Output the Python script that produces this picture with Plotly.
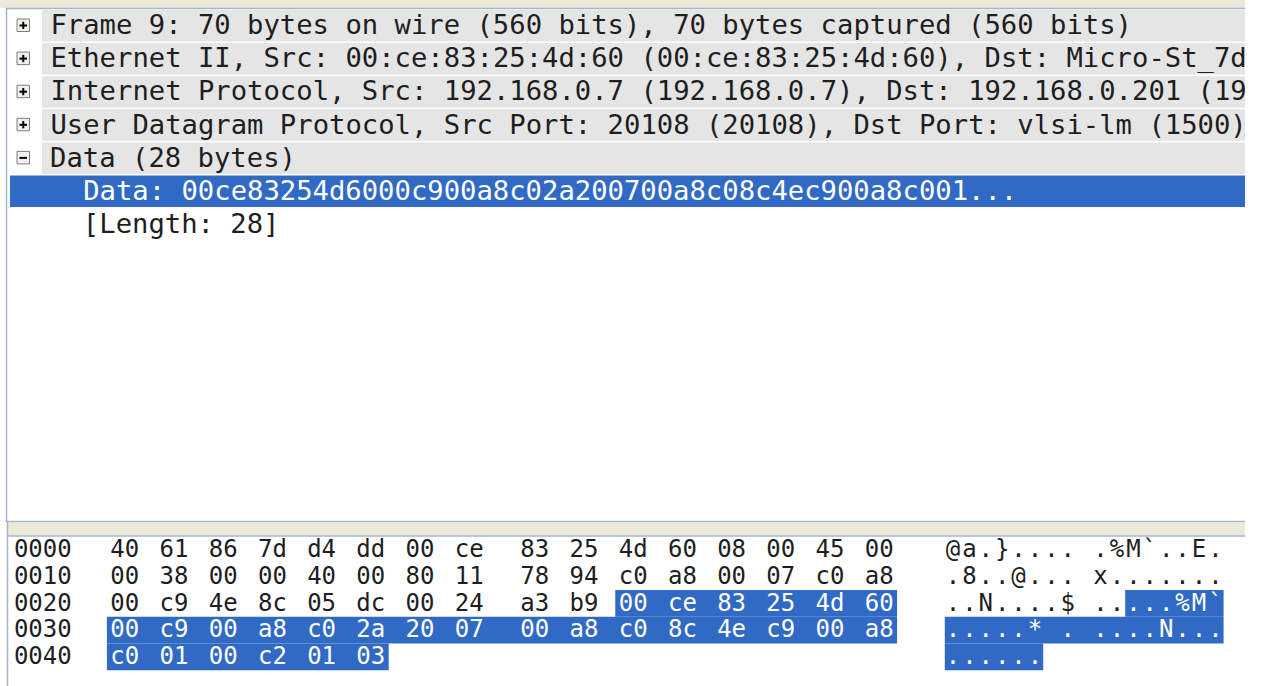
import plotly.graph_objects as go

# ---------------- data ----------------
tree_labels = [
    "Frame 9: 70 bytes on wire (560 bits), 70 bytes captured (560 bits)",
    "Ethernet II, Src: 00:ce:83:25:4d:60 (00:ce:83:25:4d:60), Dst: Micro-St_7d",
    "Internet Protocol, Src: 192.168.0.7 (192.168.0.7), Dst: 192.168.0.201 (19",
    "User Datagram Protocol, Src Port: 20108 (20108), Dst Port: vlsi-lm (1500)",
    "Data (28 bytes)",
    "Data: {payload}...",
    "[Length: 28]",
]
tree_indent = [0, 0, 0, 0, 0, 2, 2]
tree_icon = ["+", "+", "+", "+", "-", "", ""]
tree_selected = [False, False, False, False, False, True, False]

hex_offsets = ["0000", "0010", "0020", "0030", "0040"]
hex_rows = [
    "40 61 86 7d d4 dd 00 ce 83 25 4d 60 08 00 45 00",
    "00 38 00 00 40 00 80 11 78 94 c0 a8 00 07 c0 a8",
    "00 c9 4e 8c 05 dc 00 24 a3 b9 00 ce 83 25 4d 60",
    "00 c9 00 a8 c0 2a 20 07 00 a8 c0 8c 4e c9 00 a8",
    "c0 01 00 c2 01 03",
]
sel_start = 42   # first byte of the Data field
sel_len = 28     # bytes in the Data field
preview_bytes = 24

# ---------------- styling / layout constants ----------------
W, H = 1262, 686
CW = 16.4                     # character advance
FONT = "DejaVu Sans Mono"
FSIZE = CW / 0.6021           # tree font (advance == CW)
HEX_FSIZE = 24                # hex dump font (fits the tighter row pitch)
DARK = "#1e1e1e"
SEL = "#316ac5"
ROWGRAY = "#e5e5e5"
BEIGE = "#ece9d8"
BORDER = "#a3b6cc"
RIGHT = 1245

TREE_X0, TREE_Y0, ROW_H = 50, 25.5, 33.1
TEXT_DY = 2.0
HEX_X0, HEX_Y0, HEX_ROW_H = 10, 550, 26.75
HEX_COL, ASCII_COL = 6, 57

all_bytes = []
for r in hex_rows:
    all_bytes += r.split()
payload = "".join(all_bytes[sel_start:sel_start + preview_bytes])
tree_text = [t.replace("{payload}", payload) for t in tree_labels]


def col_x(c):
    return HEX_X0 + c * CW


def hex_col(j):
    return HEX_COL + 3 * j + (1 if j >= 8 else 0)


def asc_col(j):
    return ASCII_COL + j + (1 if j >= 8 else 0)


def to_ascii(b):
    v = int(b, 16)
    return chr(v) if 32 <= v < 127 else "."


shapes = []
# upper pane frame
shapes.append(dict(type="rect", x0=0, x1=RIGHT, y0=0, y1=8, fillcolor=BEIGE, line_width=0, layer="below"))
shapes.append(dict(type="line", x0=6, x1=RIGHT, y0=8.5, y1=8.5, line=dict(color=BORDER, width=1.5)))
shapes.append(dict(type="line", x0=6.5, x1=6.5, y0=8, y1=522, line=dict(color=BORDER, width=1.5)))
shapes.append(dict(type="line", x0=6, x1=RIGHT, y0=521.5, y1=521.5, line=dict(color=BORDER, width=1.5)))
# splitter + lower pane frame
shapes.append(dict(type="rect", x0=7, x1=RIGHT, y0=522.5, y1=535.5, fillcolor=BEIGE, line_width=0, layer="below"))
shapes.append(dict(type="line", x0=7, x1=RIGHT, y0=536, y1=536, line=dict(color=BORDER, width=1.5)))
shapes.append(dict(type="line", x0=7.5, x1=7.5, y0=522, y1=H, line=dict(color=BORDER, width=1.5)))

# tree rows
tree_dark = ([], [], [])
tree_white = ([], [], [])
for i, (txt, ind, icon, sel) in enumerate(zip(tree_text, tree_indent, tree_icon, tree_selected)):
    cy = TREE_Y0 + ROW_H * i
    top, bot = cy - 15.5, cy + 16
    if sel:
        shapes.append(dict(type="rect", x0=10, x1=RIGHT, y0=top, y1=bot, fillcolor=SEL, line_width=0, layer="below"))
    elif icon:
        shapes.append(dict(type="rect", x0=42, x1=RIGHT, y0=top, y1=bot, fillcolor=ROWGRAY, line_width=0, layer="below"))
    if icon:
        shapes.append(dict(type="rect", x0=17, x1=29.5, y0=cy - 6.5, y1=cy + 6, fillcolor="#f0f0ec",
                           line=dict(color="#7c7c7c", width=1)))
        shapes.append(dict(type="line", x0=19.5, x1=27, y0=cy, y1=cy, line=dict(color="#000000", width=2)))
        if icon == "+":
            shapes.append(dict(type="line", x0=23.25, x1=23.25, y0=cy - 3.75, y1=cy + 3.5,
                               line=dict(color="#000000", width=2)))
    cx = TREE_X0 + (ind + len(txt) / 2) * CW
    tgt = tree_white if sel else tree_dark
    tgt[0].append(cx); tgt[1].append(cy + TEXT_DY); tgt[2].append(txt)

# hex dump
hex_dark = ([], [], [])
hex_white = ([], [], [])
for k, (off, row) in enumerate(zip(hex_offsets, hex_rows)):
    cy = HEX_Y0 + HEX_ROW_H * k
    ty = cy + TEXT_DY - 1
    hex_dark[0].append(col_x(0) + 2 * CW); hex_dark[1].append(ty); hex_dark[2].append(off)
    bytes_ = row.split()
    sel_js = []
    for j, b in enumerate(bytes_):
        idx = 16 * k + j
        is_sel = sel_start <= idx < sel_start + sel_len
        hx = col_x(hex_col(j)) + CW
        ax = col_x(asc_col(j)) + CW / 2
        a = to_ascii(b)
        tgt = hex_white if is_sel else hex_dark
        if is_sel:
            sel_js.append(j)
        tgt[0].extend([hx, ax]); tgt[1].extend([ty, ty]); tgt[2].extend([b, a])
    if sel_js:
        js, je = sel_js[0], sel_js[-1]
        y0 = HEX_Y0 - 13.5 + HEX_ROW_H * k
        y1 = y0 + HEX_ROW_H
        shapes.append(dict(type="rect", x0=col_x(hex_col(js)) - 1.5, x1=col_x(hex_col(je)) + 2 * CW + 1.5,
                           y0=y0, y1=y1, fillcolor=SEL, line_width=0, layer="below"))
        shapes.append(dict(type="rect", x0=col_x(asc_col(js)), x1=col_x(asc_col(je)) + CW,
                           y0=y0, y1=y1, fillcolor=SEL, line_width=0, layer="below"))

fig = go.Figure()
for (xs, ys, ts), size, color in [
    (tree_dark, FSIZE, DARK), (tree_white, FSIZE, "#ffffff"),
    (hex_dark, HEX_FSIZE, DARK), (hex_white, HEX_FSIZE, "#ffffff"),
]:
    fig.add_trace(go.Scatter(x=xs, y=ys, text=ts, mode="text", textposition="middle center",
                             textfont=dict(family=FONT, size=size, color=color),
                             hoverinfo="skip", cliponaxis=False))

fig.update_layout(
    width=W, height=H, margin=dict(l=0, r=0, t=0, b=0),
    paper_bgcolor="white", plot_bgcolor="white", showlegend=False,
    shapes=shapes,
    xaxis=dict(range=[0, W], visible=False, fixedrange=True),
    yaxis=dict(range=[H, 0], visible=False, fixedrange=True),
)
fig.write_html(
    "out.html",
    config={"displayModeBar": False},
    post_script="document.body.style.margin='0';document.body.style.overflow='hidden';",
)
